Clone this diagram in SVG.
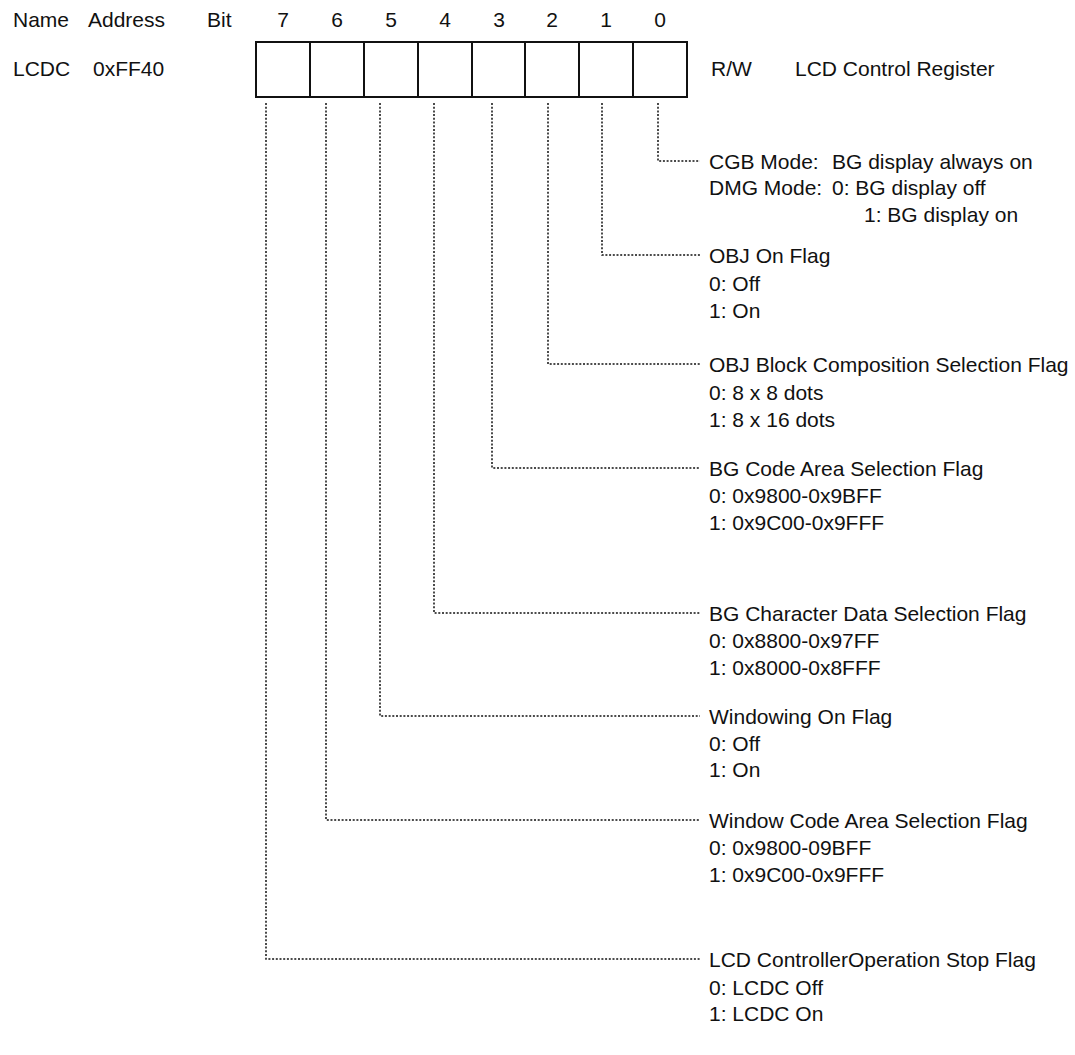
<svg xmlns="http://www.w3.org/2000/svg" width="1075" height="1055" viewBox="0 0 1075 1055">
<style>
text{font-family:"Liberation Sans",Arial,sans-serif;font-size:21px;fill:#111}
.c{text-anchor:middle}
.box{fill:none;stroke:#111;stroke-width:2}
.dot{fill:none;stroke:#111;stroke-width:1.5;stroke-dasharray:2 1.7}
</style>
<rect width="1075" height="1055" fill="#fff"/>
<g id="header">
<text x="13" y="27">Name</text>
<text x="88" y="27">Address</text>
<text x="207" y="27">Bit</text>
<text class="c" x="283" y="27">7</text>
<text class="c" x="337" y="27">6</text>
<text class="c" x="391" y="27">5</text>
<text class="c" x="445" y="27">4</text>
<text class="c" x="499" y="27">3</text>
<text class="c" x="552" y="27">2</text>
<text class="c" x="606" y="27">1</text>
<text class="c" x="660" y="27">0</text>
</g>
<g id="register">
<text x="13" y="76">LCDC</text>
<text x="93" y="76">0xFF40</text>
<rect class="box" x="256" y="42" width="431" height="55"/>
<path class="box" d="M310 42V97M364 42V97M418 42V97M472 42V97M525 42V97M579 42V97M633 42V97"/>
<text x="711" y="76">R/W</text>
<text x="795" y="76">LCD Control Register</text>
</g>
<g id="connectors">
<path class="dot" d="M658 103V161H700"/>
<path class="dot" d="M602 103V255H700"/>
<path class="dot" d="M548 103V364H700"/>
<path class="dot" d="M492 103V468H700"/>
<path class="dot" d="M434 103V613H700"/>
<path class="dot" d="M380 103V716H700"/>
<path class="dot" d="M326 103V820H700"/>
<path class="dot" d="M266 103V959H700"/>
</g>
<g id="bit0">
<text x="709" y="169">CGB Mode:</text>
<text x="832" y="169">BG display always on</text>
<text x="709" y="195">DMG Mode:</text>
<text x="832" y="195">0: BG display off</text>
<text x="864" y="222">1: BG display on</text>
</g>
<g id="bit1">
<text x="709" y="263">OBJ On Flag</text>
<text x="709" y="291">0: Off</text>
<text x="709" y="318">1: On</text>
</g>
<g id="bit2">
<text x="709" y="372">OBJ Block Composition Selection Flag</text>
<text x="709" y="400">0: 8 x 8 dots</text>
<text x="709" y="427">1: 8 x 16 dots</text>
</g>
<g id="bit3">
<text x="709" y="476">BG Code Area Selection Flag</text>
<text x="709" y="503">0: 0x9800-0x9BFF</text>
<text x="709" y="530">1: 0x9C00-0x9FFF</text>
</g>
<g id="bit4">
<text x="709" y="621">BG Character Data Selection Flag</text>
<text x="709" y="648">0: 0x8800-0x97FF</text>
<text x="709" y="675">1: 0x8000-0x8FFF</text>
</g>
<g id="bit5">
<text x="709" y="724">Windowing On Flag</text>
<text x="709" y="751">0: Off</text>
<text x="709" y="777">1: On</text>
</g>
<g id="bit6">
<text x="709" y="828">Window Code Area Selection Flag</text>
<text x="709" y="855">0: 0x9800-09BFF</text>
<text x="709" y="882">1: 0x9C00-0x9FFF</text>
</g>
<g id="bit7">
<text x="709" y="967">LCD ControllerOperation Stop Flag</text>
<text x="709" y="995">0: LCDC Off</text>
<text x="709" y="1021">1: LCDC On</text>
</g>
</svg>
